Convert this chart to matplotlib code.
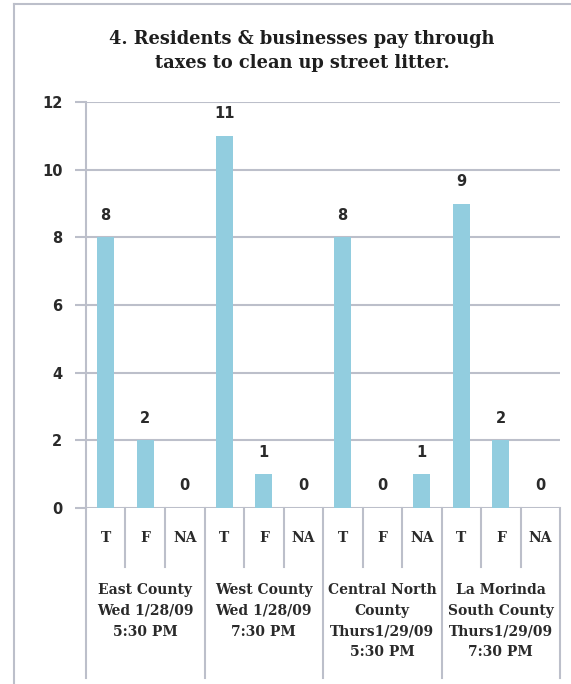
import matplotlib
matplotlib.use("Agg")
import matplotlib.pyplot as plt
import matplotlib.transforms as mtransforms

title = "4. Residents & businesses pay through\ntaxes to clean up street litter."
groups = ["East County\nWed 1/28/09\n5:30 PM",
          "West County\nWed 1/28/09\n7:30 PM",
          "Central North\nCounty\nThurs1/29/09\n5:30 PM",
          "La Morinda\nSouth County\nThurs1/29/09\n7:30 PM"]
answers = ["T", "F", "NA"]
values = [8, 2, 0, 11, 1, 0, 8, 0, 1, 9, 2, 0]
yticks = [0, 2, 4, 6, 8, 10, 12]

W, H = 571, 684
fig = plt.figure(figsize=(W / 100, H / 100), dpi=100)
fig.patch.set_facecolor("white")

grey = "#bcbfca"
bar_col = "#92cddf"
txt = "#2a2a2a"
serif = "DejaVu Serif"
sans = "DejaVu Sans"

# outer frame
fig.add_artist(plt.Line2D([14 / W, 14 / W], [0, 1 - 4 / H], color=grey, lw=1.5))
fig.add_artist(plt.Line2D([14 / W, 1], [1 - 4 / H, 1 - 4 / H], color=grey, lw=1.5))

x0, x1, ytop, ybot = 86, 560, 102, 508
ax = fig.add_axes([x0 / W, 1 - ybot / H, (x1 - x0) / W, (ybot - ytop) / H])
n = len(values)
xs = list(range(n))
ax.bar(xs, values, width=0.43, color=bar_col, zorder=3)
ax.set_xlim(-0.5, n - 0.5)
ax.set_ylim(0, 12)
ax.set_yticks(yticks)
ax.set_yticklabels([str(t) for t in yticks], fontfamily=sans, fontweight="bold",
                   fontsize=10.5, color=txt)
ax.tick_params(axis="y", length=8, color=grey, width=1.5, pad=9)
ax.set_xticks([])
ax.grid(axis="y", color=grey, lw=1.5, zorder=1)
for s in ["top", "right", "bottom"]:
    ax.spines[s].set_visible(False)
ax.spines["left"].set_color(grey)
ax.spines["left"].set_linewidth(1.5)

for x, v in zip(xs, values):
    ax.annotate(str(v), (x, v), xytext=(0, 22), textcoords="offset pixels",
                ha="center", va="center", fontfamily=sans, fontweight="bold",
                fontsize=10.5, color=txt)

trans = mtransforms.blended_transform_factory(ax.transData, ax.transAxes)
hpx = ybot - ytop
def yax(py):
    return (ybot - py) / hpx

for k in range(n + 1):
    xb = k - 0.5
    bottom = 678 if k % 3 == 0 else 567
    ax.plot([xb, xb], [0, yax(bottom)], transform=trans, color=grey, lw=1.5,
            clip_on=False, zorder=2)

for x in xs:
    ax.text(x, yax(538), answers[x % 3], transform=trans, ha="center", va="center",
            fontfamily=serif, fontweight="bold", fontsize=10, color=txt)

for g, lab in enumerate(groups):
    ax.text(g * 3 + 1, yax(583), lab, transform=trans, ha="center", va="top",
            fontfamily=serif, fontweight="bold", fontsize=10, color=txt,
            linespacing=1.62)

fig.text(302 / W, 1 - 51 / H, title, ha="center", va="center", fontfamily=serif,
         fontweight="bold", fontsize=12.8, color="#1e1e1e", linespacing=1.5)

fig.savefig("out.png", dpi=100)
